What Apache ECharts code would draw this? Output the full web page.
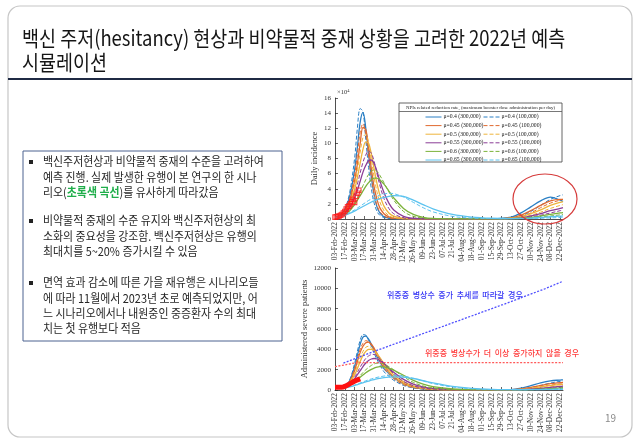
<!DOCTYPE html>
<html><head><meta charset="utf-8">
<script src="https://cdn.jsdelivr.net/npm/echarts@6/dist/echarts.min.js"></script>
<style>html,body{margin:0;padding:0;background:#fff}#c{width:640px;height:445px}</style>
</head><body><div id="c"></div>
<script>
// ---------- data ----------
const TICK_LABELS = ['03-Feb-2022','17-Feb-2022','03-Mar-2022','17-Mar-2022','31-Mar-2022','14-Apr-2022','28-Apr-2022','12-May-2022','26-May-2022','09-Jun-2022','23-Jun-2022','07-Jul-2022','21-Jul-2022','04-Aug-2022','18-Aug-2022','01-Sep-2022','15-Sep-2022','29-Sep-2022','13-Oct-2022','27-Oct-2022','10-Nov-2022','24-Nov-2022','08-Dec-2022','22-Dec-2022'];
const TICK_STEP_DAYS = 14;
const Y1_TICKS = [0,2,4,6,8,10,12,14,16];
const Y2_TICKS = [0,2000,4000,6000,8000,10000,12000];

const SERIES_NAMES = ['μ=0.4 (300,000)','μ=0.4 (100,000)','μ=0.45 (300,000)','μ=0.45 (100,000)','μ=0.5 (300,000)','μ=0.5 (100,000)','μ=0.55 (300,000)','μ=0.55 (100,000)','μ=0.6 (300,000)','μ=0.6 (100,000)','μ=0.65 (300,000)','μ=0.65 (100,000)'];

// days since 03-Feb-2022
const DAYS = [0,7,14,21,28,32,36,40,44,48,52,56,60,64,70,77,84,98,112,126,140,168,196,224,252,266,280,294,308,322,326];

// Daily incidence (x10^4)
const INC_MU040_300K = [0.2,0.5,1.2,3.0,6.5,9.5,12.8,14.1,12.0,8.5,5.5,3.2,1.6,0.8,0.3,0.12,0.06,0.02,0.01,0.01,0.01,0.01,0.01,0.03,0.25,0.8,1.6,2.4,2.9,2.5,2.3];
const INC_MU040_100K = [0.2,0.5,1.3,3.5,8.0,12.0,14.6,14.2,10.5,6.8,4.0,2.1,1.0,0.5,0.2,0.08,0.04,0.01,0.01,0.01,0.01,0.01,0.01,0.02,0.1,0.4,1.0,1.8,2.6,3.1,3.2];
const INC_MU045_300K = [0.2,0.45,1.0,2.4,5.0,7.3,10.0,12.1,11.8,9.5,6.6,4.2,2.6,1.5,0.7,0.28,0.12,0.03,0.01,0.01,0.01,0.01,0.01,0.02,0.15,0.5,1.1,1.8,2.4,2.6,2.6];
const INC_MU045_100K = [0.2,0.5,1.1,2.7,5.8,8.6,11.5,12.6,11.2,8.3,5.4,3.2,1.8,1.0,0.4,0.15,0.06,0.02,0.01,0.01,0.01,0.01,0.01,0.01,0.07,0.3,0.8,1.5,2.1,2.5,2.6];
const INC_MU050_300K = [0.2,0.4,0.9,2.0,3.9,5.5,7.4,9.2,10.2,10.0,8.6,6.6,4.7,3.2,1.7,0.8,0.38,0.08,0.02,0.01,0.01,0.01,0.01,0.01,0.1,0.3,0.7,1.2,1.8,2.2,2.3];
const INC_MU050_100K = [0.2,0.45,1.0,2.2,4.5,6.5,8.8,10.8,11.2,10.0,7.8,5.5,3.6,2.3,1.1,0.45,0.2,0.04,0.01,0.01,0.01,0.01,0.01,0.01,0.05,0.2,0.5,0.9,1.4,1.8,1.9];
const INC_MU055_300K = [0.2,0.35,0.75,1.5,2.8,3.8,5.0,6.2,7.1,7.7,7.8,7.3,6.3,5.1,3.5,2.1,1.2,0.35,0.1,0.03,0.01,0.01,0.01,0.01,0.05,0.15,0.4,0.7,1.1,1.4,1.5];
const INC_MU055_100K = [0.2,0.4,0.85,1.8,3.3,4.6,6.1,7.5,8.5,9.0,8.7,7.6,6.0,4.5,2.7,1.4,0.7,0.15,0.04,0.01,0.01,0.01,0.01,0.01,0.03,0.1,0.3,0.5,0.8,1.1,1.2];
const INC_MU060_300K = [0.2,0.32,0.6,1.1,1.9,2.5,3.1,3.7,4.3,4.8,5.2,5.4,5.4,5.2,4.6,3.7,2.8,1.4,0.6,0.22,0.08,0.02,0.01,0.01,0.04,0.1,0.2,0.4,0.6,0.8,0.85];
const INC_MU060_100K = [0.2,0.35,0.65,1.2,2.1,2.8,3.6,4.4,5.2,5.9,6.3,6.5,6.3,5.8,4.8,3.6,2.5,1.0,0.35,0.12,0.04,0.01,0.01,0.01,0.02,0.05,0.1,0.25,0.4,0.55,0.6];
const INC_MU065_300K = [0.2,0.3,0.5,0.75,1.05,1.25,1.45,1.65,1.85,2.05,2.25,2.4,2.55,2.7,2.85,3.0,3.1,3.0,2.5,1.9,1.35,0.6,0.25,0.1,0.06,0.08,0.12,0.2,0.3,0.38,0.4];
const INC_MU065_100K = [0.2,0.32,0.55,0.85,1.2,1.45,1.7,1.95,2.2,2.45,2.65,2.85,3.0,3.15,3.3,3.4,3.35,2.9,2.2,1.5,0.95,0.35,0.12,0.05,0.03,0.04,0.06,0.1,0.15,0.2,0.22];

// Observed daily incidence (x10^4)
const OBS_INC_DAYS = [0,2,4,6,8,10,12,14,16,18,20,22,24,26,28,30,32,34];
const OBS_INC_VALUES = [0.25,0.3,0.35,0.4,0.5,0.6,0.8,1.0,1.3,1.6,1.7,2.0,2.3,2.6,2.2,3.0,3.4,3.8];

// Administered severe patients
const SEV_MU040_300K = [150,200,350,900,2300,3400,4500,5200,5300,5000,4500,3900,3300,2800,2100,1650,1200,600,270,120,60,20,10,10,40,180,420,700,900,980,1000];
const SEV_MU040_100K = [150,210,380,1000,2600,3800,4900,5450,5400,4900,4300,3600,3000,2500,1800,1350,950,450,200,95,45,15,8,8,20,80,230,450,680,850,880];
const SEV_MU045_300K = [150,200,330,800,1900,2800,3700,4300,4650,4700,4500,4100,3600,3100,2400,1800,1300,650,310,150,75,25,10,10,25,100,260,450,620,720,740];
const SEV_MU045_100K = [150,205,350,850,2100,3100,4000,4600,4850,4750,4400,3900,3350,2850,2150,1550,1100,520,240,110,55,18,8,8,15,55,160,320,480,600,620];
const SEV_MU050_300K = [150,190,310,700,1500,2100,2800,3400,3800,4000,4000,3850,3550,3200,2600,2000,1500,800,400,200,100,32,12,10,15,60,160,300,440,540,560];
const SEV_MU050_100K = [150,195,320,750,1700,2400,3200,3800,4200,4300,4150,3850,3450,3000,2350,1750,1250,620,290,140,65,20,8,8,10,35,100,200,310,400,420];
const SEV_MU055_300K = [150,180,280,580,1100,1500,1900,2300,2650,2900,3050,3100,3050,2900,2600,2150,1750,1050,580,300,150,50,15,10,10,30,80,160,260,350,380];
const SEV_MU055_100K = [150,185,300,640,1250,1750,2250,2700,3100,3350,3480,3500,3350,3100,2650,2100,1600,850,420,200,95,30,10,8,8,20,55,110,180,250,270];
const SEV_MU060_300K = [150,170,250,450,780,1000,1250,1480,1700,1880,2030,2150,2250,2300,2280,2150,1950,1450,950,580,330,100,30,12,10,18,40,80,140,200,220];
const SEV_MU060_100K = [150,175,260,490,870,1130,1420,1720,1990,2220,2420,2560,2640,2650,2550,2300,1980,1300,750,400,200,50,15,8,8,12,25,50,85,125,135];
const SEV_MU065_300K = [150,160,210,310,440,530,620,710,800,880,960,1030,1090,1140,1210,1260,1290,1270,1130,920,700,360,160,65,30,25,30,45,65,90,95];
const SEV_MU065_100K = [150,165,220,330,480,580,690,800,900,1000,1090,1170,1240,1300,1370,1430,1450,1370,1150,880,630,290,115,45,20,15,18,25,38,52,56];

// Observed severe patients
const OBS_SEV_DAYS = [0,3,6,9,12,15,18,21,24,27,30,33,36];
const OBS_SEV_VALUES = [260,260,270,280,300,380,480,600,720,830,930,1020,1100];

// Bed-capacity scenarios
const BED_TREND_DAYS = [12,60,120,180,240,300,326];
const BED_TREND_VALUES = [2650,3900,5400,6900,8400,9950,10700];
const BED_FLAT_DAYS = [0,10,20,30,35,326];
const BED_FLAT_VALUES = [2300,2420,2550,2680,2700,2700];

// ---------- styling ----------
const COLORS = ['#2a7fc4','#e0692f','#eeb43c','#8b3c96','#7bb23a','#5cc3ef'];
const SERIF = '"Liberation Serif","DejaVu Serif",serif';
const KR = '"Noto Sans CJK KR","Noto Sans",sans-serif';

const INC = [INC_MU040_300K,INC_MU040_100K,INC_MU045_300K,INC_MU045_100K,INC_MU050_300K,INC_MU050_100K,INC_MU055_300K,INC_MU055_100K,INC_MU060_300K,INC_MU060_100K,INC_MU065_300K,INC_MU065_100K];
const SEV = [SEV_MU040_300K,SEV_MU040_100K,SEV_MU045_300K,SEV_MU045_100K,SEV_MU050_300K,SEV_MU050_100K,SEV_MU055_300K,SEV_MU055_100K,SEV_MU060_300K,SEV_MU060_100K,SEV_MU065_300K,SEV_MU065_100K];

const zip = (xs, ys) => xs.map((x, i) => [x, ys[i]]);
const TICK_DAYS = TICK_LABELS.map((_, i) => i * TICK_STEP_DAYS);

function lineSeries(name, data, idx, xi, yi) {
  const dashed = idx % 2 === 1;
  return {
    name: name, type: 'line', xAxisIndex: xi, yAxisIndex: yi,
    data: data, smooth: 0.35, symbol: 'none', showSymbol: false,
    lineStyle: {color: COLORS[Math.floor(idx / 2)], width: dashed ? 1 : 1.3, type: dashed ? [4, 2] : 'solid'},
    itemStyle: {color: COLORS[Math.floor(idx / 2)]},
    z: 3, silent: true, animation: false
  };
}

const series = [];
SERIES_NAMES.forEach((n, i) => series.push(lineSeries(n, zip(DAYS, INC[i]), i, 0, 0)));
series.push({type: 'scatter', xAxisIndex: 0, yAxisIndex: 0, data: zip(OBS_INC_DAYS, OBS_INC_VALUES),
  symbol: 'rect', symbolSize: 4.5, itemStyle: {color: 'rgba(255,255,255,0)', borderColor: '#ff1a1a', borderWidth: 1.1}, z: 6, animation: false});
SERIES_NAMES.forEach((n, i) => series.push(lineSeries('sev ' + n, zip(DAYS, SEV[i]), i, 1, 1)));
series.push({type: 'line', xAxisIndex: 1, yAxisIndex: 1, data: zip(OBS_SEV_DAYS, OBS_SEV_VALUES), symbol: 'none',
  lineStyle: {color: '#ff1010', width: 5}, z: 6, animation: false});
series.push({type: 'line', xAxisIndex: 1, yAxisIndex: 1, data: zip(BED_TREND_DAYS, BED_TREND_VALUES), symbol: 'none',
  lineStyle: {color: '#5050ff', width: 1.3, type: [2, 1.5]}, z: 5, animation: false});
series.push({type: 'line', xAxisIndex: 1, yAxisIndex: 1, data: zip(BED_FLAT_DAYS, BED_FLAT_VALUES), symbol: 'none',
  lineStyle: {color: '#ff5a5a', width: 1.3, type: [2, 1.5]}, z: 5, animation: false});

function xAxis(gi) {
  return {
    type: 'value', gridIndex: gi, min: 0, max: 326, interval: TICK_STEP_DAYS,
    splitLine: {show: false},
    axisLine: {lineStyle: {color: '#222', width: 0.8}},
    axisTick: {inside: true, length: 3, lineStyle: {color: '#222', width: 0.7}, customValues: TICK_DAYS},
    axisLabel: {rotate: 90, fontSize: 7.4, fontFamily: SERIF, color: '#333', margin: 3, customValues: TICK_DAYS,
      formatter: v => (v % TICK_STEP_DAYS === 0 && v / TICK_STEP_DAYS < TICK_LABELS.length) ? TICK_LABELS[v / TICK_STEP_DAYS] : ''}
  };
}
function yAxis(gi, ticks, name, gap) {
  return {
    type: 'value', gridIndex: gi, min: ticks[0], max: ticks[ticks.length - 1], interval: ticks[1] - ticks[0],
    name: name, nameLocation: 'middle', nameGap: gap,
    nameTextStyle: {fontSize: 8.5, fontFamily: SERIF, color: '#333'},
    splitLine: {show: false},
    axisLine: {show: true, lineStyle: {color: '#222', width: 0.8}},
    axisTick: {show: true, inside: true, length: 3, lineStyle: {color: '#222', width: 0.7}},
    axisLabel: {fontSize: 7, fontFamily: SERIF, color: '#333', margin: 4, formatter: v => String(v)}
  };
}

const legendCommon = {
  orient: 'vertical', top: 114, itemWidth: 16, itemHeight: 5, itemGap: 2.6, padding: 0,
  selectedMode: false, z: 20,
  lineStyle: {width: 1},
  itemStyle: {opacity: 0, color: 'rgba(0,0,0,0)', borderWidth: 0},
  textStyle: {fontSize: 5.7, fontFamily: SERIF, color: '#222', padding: [0, 0, 0, -3]}
};

const bodyStyle = {font: '12px ' + KR, fill: '#262626', lineHeight: 15.4, verticalAlign: 'top',
  rich: {g: {font: 'bold 12px ' + KR, fill: '#1fae4a', lineHeight: 15.4}}};

const option = {
  backgroundColor: '#fff',
  animation: false,
  grid: [
    {left: 335, top: 98, width: 228, height: 121},
    {left: 335, top: 268, width: 228, height: 122}
  ],
  xAxis: [xAxis(0), xAxis(1)],
  yAxis: [yAxis(0, Y1_TICKS, 'Daily incidence', 16), yAxis(1, Y2_TICKS, 'Administered severe patients', 21)],
  legend: [
    Object.assign({}, legendCommon, {left: 425, data: SERIES_NAMES.filter((_, i) => i % 2 === 0)}),
    Object.assign({}, legendCommon, {left: 483, data: SERIES_NAMES.filter((_, i) => i % 2 === 1)})
  ],
  series: series,
  graphic: [
    // slide frame
    {type: 'rect', z: 0, shape: {x: 8, y: 6, width: 624, height: 431, r: 12}, style: {fill: 'none', stroke: '#c6c6c6', lineWidth: 1.2}},
    {type: 'line', z: 0, shape: {x1: 8, y1: 79, x2: 632, y2: 79}, style: {stroke: '#1f2a44', lineWidth: 2}},
    {type: 'text', x: 22, y: 38, scaleX: 0.88, style: {text: '백신 주저(hesitancy) 현상과 비약물적 중재 상황을 고려한 2022년 예측', font: '21px ' + KR, fill: '#151515', verticalAlign: 'middle'}},
    {type: 'text', x: 22, y: 62, scaleX: 0.88, style: {text: '시뮬레이션', font: '21px ' + KR, fill: '#151515', verticalAlign: 'middle'}},
    // left text box
    {type: 'rect', z: 0, shape: {x: 23, y: 151, width: 259, height: 190}, style: {fill: '#fff', stroke: '#4d6290', lineWidth: 1}},
    {type: 'rect', shape: {x: 29, y: 160, width: 4, height: 4}, style: {fill: '#222'}},
    {type: 'rect', shape: {x: 29, y: 219, width: 4, height: 4}, style: {fill: '#222'}},
    {type: 'rect', shape: {x: 29, y: 281, width: 4, height: 4}, style: {fill: '#222'}},
    {type: 'text', x: 43, y: 154, scaleX: 0.91, style: Object.assign({}, bodyStyle, {text: '백신주저현상과 비약물적 중재의 수준을 고려하여\n예측 진행. 실제 발생한 유행이 본 연구의 한 시나\n리오({g|초록색 곡선})를 유사하게 따라갔음'})},
    {type: 'text', x: 43, y: 213, scaleX: 0.91, style: Object.assign({}, bodyStyle, {text: '비약물적 중재의 수준 유지와 백신주저현상의 최\n소화의 중요성을 강조함. 백신주저현상은 유행의\n최대치를 5~20% 증가시킬 수 있음'})},
    {type: 'text', x: 43, y: 275, scaleX: 0.91, style: Object.assign({}, bodyStyle, {text: '면역 효과 감소에 따른 가을 재유행은 시나리오들\n에 따라 11월에서 2023년 초로 예측되었지만, 어\n느 시나리오에서나 내원중인 중증환자 수의 최대\n치는 첫 유행보다 적음'})},
    // chart 1 extras
    {type: 'text', x: 337, y: 88, style: {text: '{a|×10}{b|4}', rich: {a: {fontSize: 6.5, fontFamily: SERIF, fill: '#333'}, b: {fontSize: 4.5, fontFamily: SERIF, fill: '#333', verticalAlign: 'top', padding: [0, 0, 4, 0]}}}},
    {type: 'rect', z: 15, shape: {x: 399, y: 103, width: 163, height: 59}, style: {fill: '#fff', stroke: '#555', lineWidth: 0.9}},
    {type: 'line', z: 16, shape: {x1: 399, y1: 111.5, x2: 562, y2: 111.5}, style: {stroke: '#555', lineWidth: 0.8}},
    {type: 'text', z: 16, x: 480.5, y: 107.5, style: {text: 'NPIs related reduction rate, (maximum booster dose administration per day)', fontSize: 4.9, fontFamily: SERIF, fill: '#222', align: 'center', verticalAlign: 'middle'}},
    {type: 'ellipse', z: 16, shape: {cx: 545, cy: 199, rx: 32, ry: 25}, style: {fill: 'none', stroke: '#d63c3c', lineWidth: 1.2}},
    // chart 2 annotations
    {type: 'text', z: 16, x: 387, y: 295, style: {text: '위중증  병상수  증가  추세를  따라갈  경우', font: '500 8px ' + KR, fill: '#3535f5', verticalAlign: 'middle'}},
    {type: 'text', z: 16, x: 425, y: 353, style: {text: '위중증  병상수가  더  이상  증가하지  않을  경우', font: '500 8px ' + KR, fill: '#ff3a3a', verticalAlign: 'middle'}},
    // page number
    {type: 'text', x: 605, y: 418, style: {text: '19', font: '10px ' + KR, fill: '#8a8a8a', verticalAlign: 'middle'}}
  ]
};

const chart = echarts.init(document.getElementById('c'), null, {renderer: 'canvas'});
chart.setOption(option);
</script>
</body></html>
